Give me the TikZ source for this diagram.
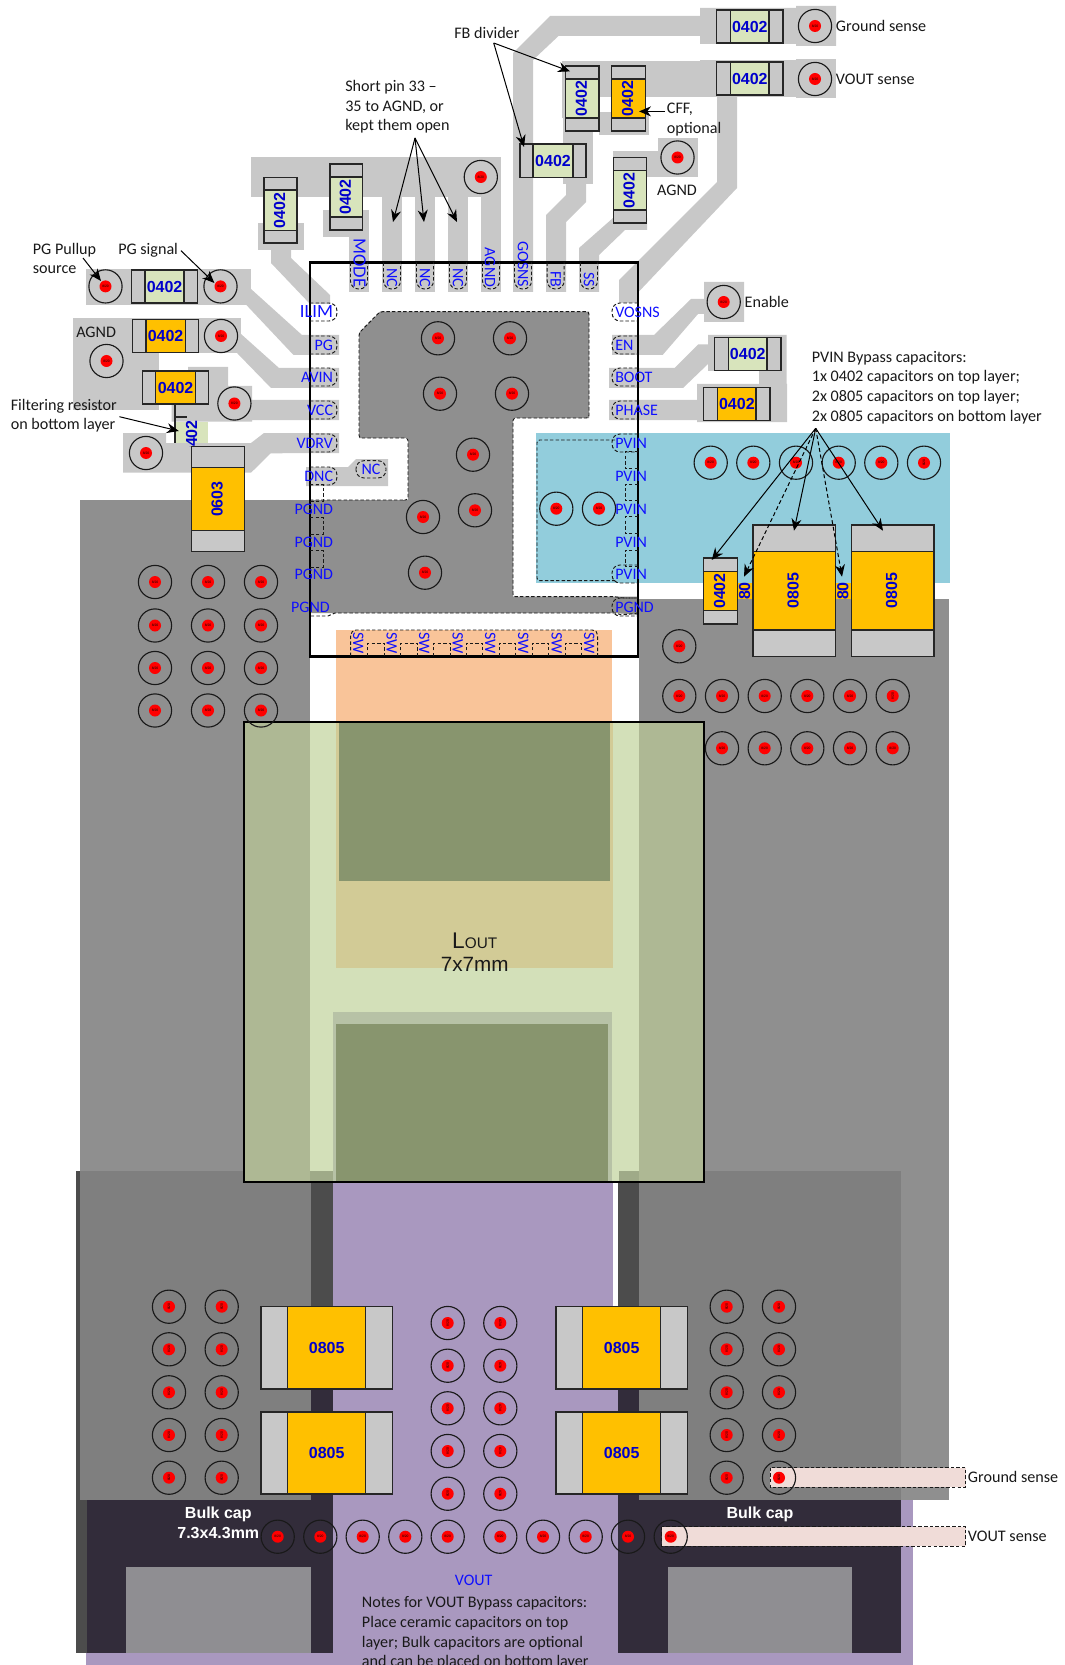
\documentclass[tikz,border=0pt]{standalone}
\usepackage{fontspec}
\setmainfont{Carlito}
\newfontfamily\arialf{Liberation Sans}
\usetikzlibrary{arrows.meta}
\definecolor{trace}{HTML}{C8C8C8}
\definecolor{plane}{HTML}{8F8F8F}
\definecolor{planedk}{HTML}{7F7F7F}
\definecolor{strip}{HTML}{4C4C4C}
\definecolor{darkz}{HTML}{322C3A}
\definecolor{purp}{HTML}{A998BF}
\definecolor{bluez}{HTML}{92CDDC}
\definecolor{orangez}{HTML}{F9C499}
\definecolor{partg}{HTML}{D8E4BC}
\definecolor{parto}{HTML}{FFC000}
\definecolor{pinblue}{HTML}{0F0FFF}
\definecolor{partblue}{HTML}{0000CC}
\definecolor{indw}{HTML}{D3E0B9}
\definecolor{indg}{HTML}{AEB894}
\definecolor{indt}{HTML}{D2CB96}
\definecolor{indd}{HTML}{88956E}
\definecolor{indl}{HTML}{B7C2A6}
\definecolor{indx}{HTML}{9FAA88}
\definecolor{sensep}{HTML}{F0DCD8}
\definecolor{boxg}{HTML}{8F8E92}
\newcounter{nid}
% horizontal part: x1 x2 y1 y2 padw colour text
\newcommand{\parth}[7]{%
  \fill[#6] (#1,#3) rectangle (#2,#4);
  \draw[partline,fill=trace] (#1,#3) rectangle ({#1+#5},#4);
  \draw[partline,fill=trace] ({#2-#5},#3) rectangle (#2,#4);
  \draw[partline] (#1,#3) rectangle (#2,#4);
  \stepcounter{nid}\node[partlabel] (n\arabic{nid}) at ({(#1+#2)/2},{(#3+#4)/2}) {#7};}
% vertical part
\newcommand{\partv}[7]{%
  \fill[#6] (#1,#3) rectangle (#2,#4);
  \draw[partline,fill=trace] (#1,#3) rectangle (#2,{#3+#5});
  \draw[partline,fill=trace] (#1,{#4-#5}) rectangle (#2,#4);
  \draw[partline] (#1,#3) rectangle (#2,#4);
  \stepcounter{nid}\node[partlabel,rotate=90] (n\arabic{nid}) at ({(#1+#2)/2-1},{(#3+#4)/2}) {#7};}
\newcommand{\via}[2]{%
  \draw[viaring] (#1,#2) circle (16.6);
  \fill[red] (#1,#2) circle (6);
  \stepcounter{nid}\node[viatext] (n\arabic{nid}) at (#1,#2) {8/20};}
\newcommand{\viar}[2]{%
  \draw[viaring] (#1,#2) circle (16.6);
  \fill[red] (#1,#2) circle (6);
  \stepcounter{nid}\node[viatext,rotate=90] (n\arabic{nid}) at (#1,#2) {8/20};}
\newcommand{\pinl}[3][]{\stepcounter{nid}\node[pinlabel,anchor=east,#1] (n\arabic{nid}) at (333.3,#2) {#3};}
\newcommand{\pinr}[2]{\stepcounter{nid}\node[pinlabel,anchor=west] (n\arabic{nid}) at (615,#1) {#2};}
\newcommand{\pint}[3][]{\stepcounter{nid}\node[pinlabel,rotate=-90,anchor=east,#1] (n\arabic{nid}) at (#2,287.5) {#3};}
\tikzset{
  partline/.style={draw=black!85,line width=0.95pt},
  partlabel/.style={font=\arialf\bfseries\fontsize{12}{14}\selectfont,text=partblue,inner sep=0pt},
  viaring/.style={draw=black!90,line width=0.85pt},
  viatext/.style={font=\arialf\fontsize{2.5}{3}\selectfont,text=black,inner sep=0pt},
  pinlabel/.style={font=\fontsize{12}{14}\selectfont,text=pinblue,inner sep=0pt},
  bigpin/.style={font=\fontsize{14}{16}\selectfont},
  note/.style={font=\fontsize{12.1}{14.7}\selectfont,text=black!90,inner sep=0pt,align=left},
  dashpin/.style={draw=black!90,line width=0.72pt,dash pattern=on 2.6pt off 1.6pt},
  arr/.style={draw=black,line width=0.75pt,-{Stealth[length=9pt,width=7.5pt]}},
  darr/.style={draw=black,line width=0.75pt,dash pattern=on 3pt off 2pt,-{Stealth[length=9pt,width=7.5pt]}},
}
\begin{document}
\begin{tikzpicture}[x=0.75pt,y=-0.75pt]
\useasboundingbox (0,0) rectangle (1064,1665);
\fill[white] (0,0) rectangle (1064,1665);
% ---- planes
\fill[plane] (79.7,500) rectangle (310,1500);
\fill[plane] (638.7,599) rectangle (949,1500);
\fill[plane] (310,500) -- (408,500) -- (408,438) -- (359,438) -- (359,333) -- (380,311.7) -- (589,311.7) -- (589,418) -- (513,418) -- (513,596.7) -- (638.7,596.7) -- (638.7,615) -- (615,613) -- (310,613) -- cycle;
\fill[bluez] (536,433) rectangle (950,582.7);
\fill[orangez] (336,630) rectangle (612,722);
% ---- traces
\fill[trace] (251,157) rectangle (501,197);
\fill[trace] (258,223) rectangle (304,250);
\fill[trace] (323,210) rectangle (369,237);
\fill[trace] (349,237) rectangle (369,292);
\fill[trace] (382,197) rectangle (402,292);
\fill[trace] (415,197) rectangle (435,292);
\fill[trace] (448,197) rectangle (468,292);
\fill[trace] (481,197) rectangle (501,292);
\fill[trace] (513,292) -- (513,53) -- (550,16) -- (700,16) -- (700,8) -- (796,8) -- (796,6) -- (836,6) -- (836,46) -- (796,46) -- (796,44) -- (700,44) -- (700,36) -- (558.5,36) -- (533,60) -- (533,292) -- cycle;
\fill[trace] (562,61) rectangle (717,97);
\fill[trace] (700,60) rectangle (796,97);
\fill[trace] (796,59) rectangle (836,98);
\fill[trace] (562,97) rectangle (570,118);
\fill[trace] (599,112) rectangle (649,135);
\fill[trace] (563,118) rectangle (593,184);
\fill[trace] (566,184) -- (586,184) -- (586,202) -- (566,222) -- (566,292) -- (546,292) -- (546,215) -- (566,195) -- cycle;
\fill[trace] (717,95) -- (737,95) -- (737,188) -- (638.5,292) -- (638.5,303) -- (619,303) -- (619,280) -- (717,182) -- cycle;
\fill[trace] (658,138) rectangle (697.6,177.5);
\fill[trace] (613,151) rectangle (658,177.5);
\fill[trace] (613,218) -- (579,248) -- (579,292) -- (599,292) -- (599,255) -- (625,230) -- (647,230) -- (647,218) -- cycle;
% left stack
\fill[trace] (86,269) rectangle (251,304.6);
\fill[trace] (251,289) -- (302,335) -- (339,335) -- (339,355) -- (293.5,355) -- (246,304.6) -- (246,289) -- cycle;
\fill[trace] (73,318) rectangle (241,353.5);
\fill[trace] (73,353.5) rectangle (159,409.6);
\fill[trace] (241,334) -- (279,368) -- (339,368) -- (339,388) -- (271,388) -- (237.5,353.5) -- (230,345) -- cycle;
\fill[trace] (188,367) -- (228,367) -- (228,386) -- (252,386) -- (252,400) -- (339,400) -- (339,420) -- (252,420) -- (252,421.7) -- (171.7,421.7) -- (171.7,404) -- (188,404) -- cycle;
\fill[trace] (123,433) -- (166,433) -- (166,443) -- (251,443) -- (264,433) -- (339,433) -- (339,453) -- (270.7,453.3) -- (251,472.7) -- (123,472.7) -- cycle;
\fill[trace] (271,250) -- (291,250) -- (291,258) -- (330,295) -- (330,304) -- (310,304) -- (271,263) -- cycle;
\fill[trace] (306,467) -- (348,467) -- (356,459) -- (388,459) -- (388,486) -- (306,486) -- cycle;
% right stack
\fill[trace] (612,335) -- (654,335) -- (691,299) -- (704,299) -- (704,282) -- (744,282) -- (744,322) -- (704,322) -- (704,314) -- (698,314) -- (662.6,355) -- (612,355) -- cycle;
\fill[trace] (609,368) -- (674.5,368) -- (698,344.5) -- (708,344.5) -- (708,335) -- (786.5,335) -- (786.5,384) -- (787,384) -- (787,422) -- (697,422) -- (697,420) -- (609,420) -- (609,400) -- (697,400) -- (697,384) -- (759,384) -- (759,371) -- (708,371) -- (708,364) -- (683,388) -- (609,388) -- cycle;
% ---- purple and dark zones
\fill[purp] (333.3,1170) rectangle (613.3,1500);
\fill[purp] (86,1500) rectangle (912.7,1665);
\fill[strip] (76,1171) rectangle (79.7,1500);
\fill[planedk] (79.7,1171) rectangle (310.7,1500);
\fill[strip] (310.7,1171) rectangle (333.3,1350);
\fill[darkz] (310.7,1350) rectangle (333.3,1500);
\fill[strip] (76,1500) rectangle (86.7,1652.7);
\fill[darkz] (86.7,1500) rectangle (333.3,1652.7);
\fill[purp] (613.3,1350) rectangle (617.7,1500);
\fill[strip] (617.7,1171) rectangle (638.7,1350);
\fill[darkz] (617.7,1350) rectangle (638.7,1500);
\fill[planedk] (638.7,1171) rectangle (901,1500);
\fill[darkz] (617.7,1500) rectangle (901,1652.7);
\fill[boxg] (126,1566.7) rectangle (310.7,1652.7);
\fill[boxg] (667.7,1566.7) rectangle (851.7,1652.7);
% ---- sense strips
\draw[dashpin,fill=sensep] (770,1467.7) rectangle (965.7,1487.3);
\draw[dashpin,fill=sensep] (661.7,1526.7) rectangle (965.7,1546);
% ---- inductor
\fill[indw] (244,722.3) rectangle (704.3,1181.7);
\fill[indg] (244,722.3) rectangle (310,1181.7);
\fill[indg] (638.7,722.3) rectangle (704.3,1181.7);
\fill[indx] (310,1170.7) rectangle (333.3,1181.7);
\fill[indx] (619,1170.7) rectangle (638.7,1181.7);
\fill[indt] (336.3,722.3) rectangle (612.7,968.3);
\fill[indd] (339,722.3) rectangle (610,880.7);
\fill[indl] (333.3,1011.7) rectangle (612.3,1181.7);
\fill[indd] (336.3,1023.7) rectangle (608,1181.7);
\draw[black,line width=1.3pt] (244,722.3) rectangle (704.3,1181.7);
\node[font=\arialf\fontsize{15.5}{17}\selectfont,inner sep=0pt,text=black!90] (lout) at (474.7,941) {{\fontsize{17}{17}\selectfont L}{\fontsize{11.5}{13}\selectfont OUT}};
\node[font=\arialf\fontsize{15.5}{17}\selectfont,inner sep=0pt,text=black!90] (lsize) at (474.7,964) {7x7mm};
% ---- chip outline and pad outlines
\draw[dashpin] (310,500) -- (406,500) [rounded corners=2] -- (408,500) -- (408,438) -- (359,438) -- (359,333) -- (380,311.7) -- (589,311.7) -- (589,418) -- (513,418) -- (513,596.7) -- (615,596.7) -- (622,598) -- (638,598);
\draw[dashpin] (638,613) -- (622,615) -- (615,613) -- (335,613) -- (328,616) -- (310,616);
\draw[dashpin,rounded corners=2] (615,440) -- (537,440) -- (537,580.7) -- (615,580.7);
\draw[black,line width=1.7pt] (310,262.5) rectangle (638,656.5);
% left pads
\foreach \yy in {312,345,377,410,443,476}{\draw[dashpin,rounded corners=6] (310,\yy-9) -- (337,\yy-9) -- (337,\yy+9) -- (310,\yy+9);}
\foreach \yy in {484,517,550}{\draw[dashpin] (310,\yy) -- (323,\yy) -- (323,\yy+17) -- (310,\yy+17);}
% right pads
\foreach \yy in {312,345,377,410,443,574,607}{\draw[dashpin,rounded corners=6] (638,\yy-9) -- (612,\yy-9) -- (612,\yy+9) -- (638,\yy+9);}
\foreach \yy in {451.7,484,516.7,550}{\draw[dashpin] (638,\yy) -- (625,\yy) -- (625,\yy+16.7) -- (638,\yy+16.7);}
% top pads
\foreach \xx in {359,392,425,458,491,523,555.7,589}{\draw[dashpin,rounded corners=6] (\xx-8.5,262.5) -- (\xx-8.5,289) -- (\xx+8.5,289) -- (\xx+8.5,262.5);}
\draw[dashpin,rounded corners=6] (356,460.7) rectangle (386,478);
% sw comb
\draw[dashpin,rounded corners=4] (350.7,656) -- (350.7,630) -- (597.7,630) -- (597.7,656);
\foreach \xa/\xb in {367.7/384,400.7/417,433.7/450,466/482.7,499/515.7,532/548.7,565/581.7}{\draw[dashpin] (\xa,656) -- (\xa,643) -- (\xb,643) -- (\xb,656);}
% pin labels
\pinl[bigpin]{312}{ILIM}\pinl{345.3}{PG}\pinl{377}{AVIN}\pinl{410.3}{VCC}\pinl{443}{VDRV}\pinl{476.3}{DNC}
\pinl{509}{PGND}\pinl{542.3}{PGND}\pinl{574}{PGND}
\stepcounter{nid}\node[pinlabel,anchor=east] (n\arabic{nid}) at (330,607) {PGND};
\pinr{312}{VOSNS}\pinr{345.3}{EN}\pinr{377}{BOOT}\pinr{410.3}{PHASE}\pinr{443}{PVIN}\pinr{476.3}{PVIN}\pinr{509}{PVIN}\pinr{542.3}{PVIN}\pinr{574}{PVIN}\pinr{607}{PGND}
\pint[bigpin]{359.7}{MODE}\pint{392}{NC}\pint{425}{NC}\pint{458}{NC}\pint{490}{AGND}\pint{523}{GOSNS}\pint{555.7}{FB}\pint{589}{SS}
\stepcounter{nid}\node[pinlabel] (n\arabic{nid}) at (371,469) {NC};
\foreach \xx in {358.3,391.7,424.3,457.7,490.3,523.3,556.7,589.3}{\stepcounter{nid}\node[pinlabel,rotate=-90] (n\arabic{nid}) at (\xx,643.3) {SW};}
% ---- bottom-layer filter resistor
\fill[partg] (175,422) rectangle (208,443);
\draw[partline] (175,404) -- (175,443);
\draw[partline] (175,417) -- (187,417);
\begin{scope}
\clip (175,420) rectangle (208,446);
\stepcounter{nid}\node[partlabel,rotate=90] (n\arabic{nid}) at (191.7,438) {0402};
\end{scope}
% ---- parts
\partv{264}{297}{177.5}{243}{12.5}{partg}{0402}
\partv{330}{362.5}{164}{230}{13}{partg}{0402}
\parth{131.6}{197.5}{270}{303}{13.4}{partg}{0402}
\parth{132.7}{198.5}{319.6}{352.5}{13.3}{parto}{0402}
\parth{142.8}{208.3}{371}{404}{13}{parto}{0402}
\partv{191.7}{244.3}{446.7}{551.7}{21}{parto}{0603}
\parth{520}{586}{144}{177.5}{13}{partg}{0402}
\partv{565.6}{599}{66}{131}{13}{partg}{0402}
\partv{611.7}{645.3}{66}{131}{13}{parto}{0402}
\parth{716.6}{783}{10}{43}{14}{partg}{0402}
\parth{716.6}{783}{62}{95}{14}{partg}{0402}
\partv{613.4}{646.7}{157.5}{223}{13}{partg}{0402}
\parth{714.5}{781}{337.5}{370.6}{14}{partg}{0402}
\parth{703.7}{770}{387.5}{420.5}{14}{parto}{0402}
% hidden bottom caps
\fill[parto] (737.3,582.7) rectangle (753,599);
\fill[parto] (835.3,582.7) rectangle (851.3,599);
\stepcounter{nid}\node[partlabel,rotate=90] (n\arabic{nid}) at (744.5,591) {80};
\stepcounter{nid}\node[partlabel,rotate=90] (n\arabic{nid}) at (842.8,591) {80};
\partv{703.7}{737.3}{558}{624}{13.3}{parto}{0402}
\partv{753}{835.3}{525}{656.7}{26.7}{parto}{0805}
\partv{851.3}{934}{525}{656.7}{26.7}{parto}{0805}
\parth{261}{392.3}{1306.7}{1389}{26.7}{parto}{0805}
\parth{261}{392.3}{1412}{1494}{26.7}{parto}{0805}
\parth{556}{687.3}{1306.7}{1389}{26.7}{parto}{0805}
\parth{556}{687.3}{1412}{1494}{26.7}{parto}{0805}
% ---- vias
\via{105.5}{286.4}\via{220.5}{286.4}\via{106.5}{361}\via{221}{336}\via{234.4}{403.5}\via{146}{453}
\via{480.8}{177}\via{815}{26}\via{815}{79}\via{677.5}{157.5}\via{723.7}{302}
\foreach \xx/\yy in {438/338.3,510/338.3,440/393.7,512/393.7,473/454.7,475/510.3,423/517,425/572.7,556.3/508.7,599/508.7}{\via{\xx}{\yy}}
\foreach \xx in {710.7,753.3,796,838.7,881.3}{\via{\xx}{462.7}}
\viar{924}{462.7}
\via{679.3}{646.3}
\foreach \xx in {679.3,722,764.7,807.3,850}{\via{\xx}{696}}
\viar{892.7}{696}
\foreach \xx in {722,764.7,807.3,850,892.7}{\via{\xx}{748.3}}
\foreach \xx in {155,208,261}{\foreach \yy in {582,625.5,668,710.5}{\via{\xx}{\yy}}}
\foreach \xx in {169,221.7,726.7,779}{\foreach \yy in {1306.7,1349.3,1392.3,1435,1477.7}{\viar{\xx}{\yy}}}
\foreach \xx in {447.7,500.3}{\foreach \yy in {1323,1365.7,1408.3,1451,1493.7}{\viar{\xx}{\yy}}}
\foreach \xx in {277.7,320.3,362.7,405.3,447.7,500.3,543,585.7,628,670.7}{\via{\xx}{1536.7}}
% ---- texts
\node[note,anchor=west] (gs1) at (835.7,26) {Ground sense};
\node[note,anchor=west] (vs1) at (835.7,79) {VOUT sense};
\node[note,anchor=west] (fbt) at (454,33) {FB divider};
\node[note,anchor=west] (sht) at (345,107) {Short pin 33 –\\35 to AGND, or\\kept them open};
\node[note,anchor=west] (cff) at (666.7,119.5) {CFF,\\optional};
\node[note] (agnd1) at (677,190) {AGND};
\node[note,anchor=west] (ena) at (744.4,302) {Enable};
\node[note,anchor=west] (pvt) at (811.6,387.5) {PVIN Bypass capacitors:\\1x 0402 capacitors on top layer;\\2x 0805 capacitors on top layer;\\2x 0805 capacitors on bottom layer};
\node[note,anchor=west] (pgp) at (32.6,258.5) {PG Pullup\\source};
\node[note,anchor=west] (pgs) at (118,250.5) {PG signal};
\node[note,anchor=west] (agnd2) at (76,332) {AGND};
\node[note,anchor=west] (flt) at (10.5,415.5) {Filtering resistor\\on bottom layer};
\node[note,anchor=west] (gs2) at (967.7,1477) {Ground sense};
\node[note,anchor=west] (vs2) at (967.7,1536) {VOUT sense};
\node[pinlabel] (vout) at (473.7,1580) {VOUT};
\node[note,anchor=north west] (nts) at (361.7,1596.5) {Notes for VOUT Bypass capacitors:\\Place ceramic capacitors on top\\layer; Bulk capacitors are optional\\and can be placed on bottom layer};
\node[font=\arialf\bfseries\fontsize{12}{14}\selectfont,text=white,inner sep=0pt] (bc1) at (218.3,1514.5) {Bulk cap};
\node[font=\arialf\bfseries\fontsize{12}{14}\selectfont,text=white,inner sep=0pt] (bc2) at (218.3,1533.3) {7.3x4.3mm};
\node[font=\arialf\bfseries\fontsize{12}{14}\selectfont,text=white,inner sep=0pt] (bc3) at (760,1514.5) {Bulk cap};
% ---- arrows
\coordinate (fba) at (493.7,43);
\coordinate (fb1) at (524,147);
\coordinate (fb2) at (570,71.4);
\draw[arr] (fba) -- (fb1);
\draw[arr] (fba) -- (fb2);
\coordinate (sha) at (415,138);
\coordinate (sh1) at (393,222);
\coordinate (sh2) at (424,222);
\coordinate (sh3) at (457,222);
\draw[arr] (sha) -- (sh1);
\draw[arr] (sha) -- (sh2);
\draw[arr] (sha) -- (sh3);
\coordinate (cffa) at (665,111.4);
\coordinate (cffb) at (639,111.4);
\draw[arr] (cffa) -- (cffb);
\coordinate (ppa) at (83,258);
\coordinate (ppb) at (101,281);
\draw[arr] (ppa) -- (ppb);
\coordinate (psa) at (181,250.7);
\coordinate (psb) at (214.4,283);
\draw[arr] (psa) -- (psb);
\coordinate (fla) at (119.4,416.7);
\coordinate (flb) at (178.8,431);
\draw[arr] (fla) -- (flb);
\coordinate (pva) at (815.7,428.3);
\coordinate (pv1) at (711.7,560);
\coordinate (pv2) at (744,576.7);
\coordinate (pv3) at (794,530.7);
\coordinate (pv4) at (842,576.7);
\coordinate (pv5) at (883,530.7);
\draw[arr] (pva) -- (pv1);
\draw[darr] (pva) -- (pv2);
\draw[arr] (pva) -- (pv3);
\draw[darr] (pva) -- (pv4);
\draw[arr] (pva) -- (pv5);
\end{tikzpicture}
\end{document}
